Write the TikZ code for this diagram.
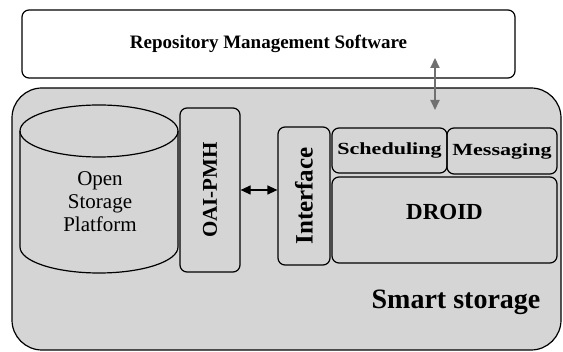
\documentclass[tikz,border=0pt]{standalone}
\usepackage{fontspec}
\setmainfont{Liberation Serif}
\newfontfamily\widefont[FakeStretch=1.3]{Liberation Serif}
\usetikzlibrary{positioning, calc}
\usetikzlibrary{arrows.meta}
\usetikzlibrary{shapes}
\definecolor{storegray}{RGB}{213,213,213}
\definecolor{linkgray}{RGB}{112,112,112}

\begin{document}
\begin{tikzpicture}[x=1pt,y=-1pt,line width=1.2pt]

	\useasboundingbox (0,0) rectangle (563,352);
	\def \rx{79pt}
	\def \ry{26pt}
	\tikzstyle{r-box}=[draw,rounded corners=7pt,inner sep=0pt,text centered,font=\bfseries]
	\tikzstyle{link}=[{Triangle[length=10pt,width=9pt]}-{Triangle[length=10pt,width=9pt]}]
	% repository layer
	\node[r-box,fill=white,minimum width=493pt,minimum height=68pt,font=\bfseries\fontsize{19}{22}\selectfont] 	(rms)	at (268.5,44)	{Repository Management Software};

	% smart storage layer
	\node[r-box,fill=storegray,rounded corners=30pt,minimum width=549pt,minimum height=262pt] 	(smart)	at (286.5,219)	{};
	\node[font=\bfseries\fontsize{28}{30}\selectfont] 	(smartlabel)	at (456,302)	{Smart storage};

	% storage platform (cylinder)
	\draw[fill=storegray] (20,131) -- (20,247) arc[start angle=180,end angle=360,x radius=\rx,y radius=\ry]
		-- (178,131) arc[start angle=0,end angle=180,x radius=\rx,y radius=\ry] -- cycle;
	\draw (20,131) arc[start angle=180,end angle=360,x radius=\rx,y radius=\ry];
	\node[align=center,font=\fontsize{21}{23}\selectfont] 	(osplabel)	at (100,202)	{Open\\Storage\\Platform};
	\node[r-box,rotate=90,minimum width=164pt,minimum height=60pt,font=\bfseries\fontsize{21}{23}\selectfont] 	(oai)	at (210,190)	{OAI-PMH};

	% services
	\node[r-box,rotate=90,minimum width=138pt,minimum height=52pt,font=\bfseries\fontsize{25}{27}\selectfont] 	(iface)	at (304,196)	{Interface};
	\node[r-box,minimum width=115pt,minimum height=45pt,font=\bfseries\widefont\fontsize{17}{19}\selectfont] 	(sched)	at (389.5,150.5)	{Scheduling};
	\node[r-box,minimum width=110pt,minimum height=46pt,font=\bfseries\widefont\fontsize{17}{19}\selectfont] 	(msg)	at (502,151)	{Messaging};
	\node[r-box,minimum width=225pt,minimum height=86pt] 	(droid)	at (444.5,220)	{};
	\node[font=\bfseries\fontsize{23}{25}\selectfont] 	(droidlabel)	at (444.5,212)	{DROID};

	% links
	\coordinate (up) at (435,58);
	\coordinate (down) at (435,110);
	\draw[link,draw=linkgray,fill=linkgray,line width=2pt] (up) -- (down);
	\draw[link] (oai.south) -- (oai.south -| iface.north);
\end{tikzpicture}
\end{document}
